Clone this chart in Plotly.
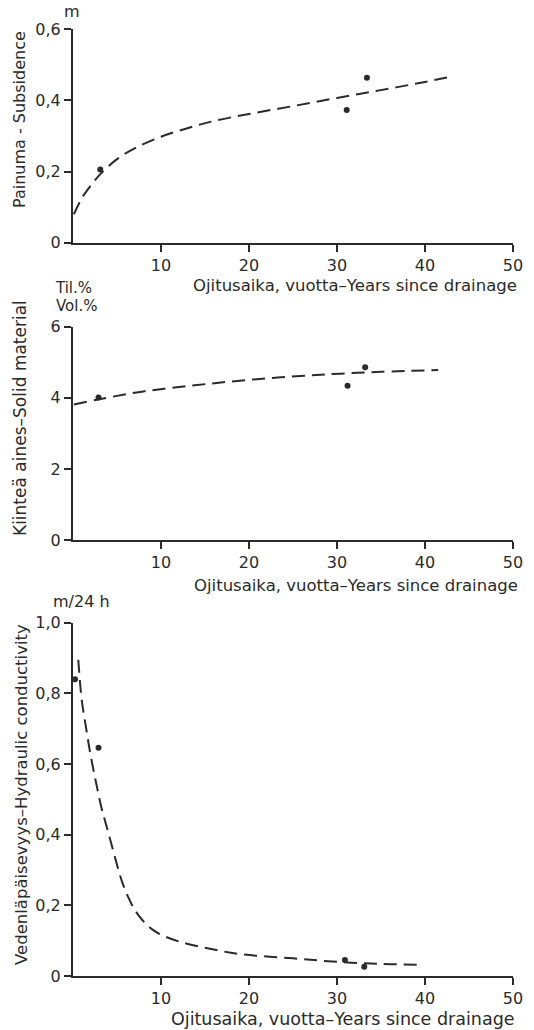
import plotly.graph_objects as go

W, H = 534, 1030

# ---------------- data ----------------
# Panel 1: subsidence (m)
years_pts_1 = [3.1, 31.1, 33.4]
subsidence_pts = [0.206, 0.373, 0.464]
years_fit_1 = [0.1, 1, 2, 3, 5, 7, 10, 13, 16, 20, 25, 30, 35, 40, 43.2]
subsidence_fit = [0.08, 0.125, 0.16, 0.19, 0.235, 0.265, 0.298, 0.322, 0.342, 0.362, 0.384,
                  0.407, 0.429, 0.452, 0.468]

# Panel 2: solid material (vol.%)
years_pts_2 = [2.9, 31.2, 33.2]
solid_pts = [4.01, 4.34, 4.86]
years_fit_2 = [0.1, 3, 8, 13.4, 18, 22.7, 27, 30.4, 35, 41.5]
solid_fit = [3.81, 3.96, 4.18, 4.34, 4.46, 4.56, 4.63, 4.68, 4.73, 4.78]

# Panel 3: hydraulic conductivity (m/24 h)
years_pts_3 = [0.23, 2.9, 30.9, 33.1]
conduct_pts = [0.84, 0.646, 0.045, 0.026]
years_fit_3 = [0.6, 1.0, 1.5, 2.0, 2.6, 3.2, 3.8, 4.4, 5.0, 5.6, 6.3, 7.1, 8.0, 9.0, 10.0,
               12, 15, 19, 25, 30, 35, 39.6]
conduct_fit = [0.895, 0.78, 0.70, 0.625, 0.55, 0.48, 0.425, 0.37, 0.315, 0.265, 0.222, 0.184,
               0.155, 0.132, 0.117, 0.098, 0.08, 0.062, 0.05, 0.04, 0.034, 0.032]

x_ticks = [10, 20, 30, 40, 50]
y1_ticks = [0, 0.2, 0.4, 0.6]
y1_labels = ["0", "0,2", "0,4", "0,6"]
y2_ticks = [0, 2, 4, 6]
y2_labels = ["0", "2", "4", "6"]
y3_ticks = [0, 0.2, 0.4, 0.6, 0.8, 1.0]
y3_labels = ["0", "0,2", "0,4", "0,6", "0,8", "1,0"]

x_title = "Ojitusaika, vuotta\u2013Years since drainage"

INK = "#2a2a2a"
FONT = "DejaVu Sans"

fig = go.Figure()

def px_x(p):
    return p / W

def px_y(p):
    return 1 - p / H

panels = [
    ("x", "y", years_pts_1, subsidence_pts, years_fit_1, subsidence_fit),
    ("x2", "y2", years_pts_2, solid_pts, years_fit_2, solid_fit),
    ("x3", "y3", years_pts_3, conduct_pts, years_fit_3, conduct_fit),
]
for xa, ya, xp, yp, xf, yf in panels:
    fig.add_trace(go.Scatter(x=xf, y=yf, xaxis=xa, yaxis=ya, mode="lines",
                             line=dict(color=INK, width=2, dash="13px,7px", shape="spline", smoothing=1.0),
                             showlegend=False, hoverinfo="skip"))
    fig.add_trace(go.Scatter(x=xp, y=yp, xaxis=xa, yaxis=ya, mode="markers",
                             marker=dict(color=INK, size=6),
                             showlegend=False))

xdom = [px_x(73), px_x(513)]
axis_common = dict(showline=True, linecolor=INK, linewidth=2, ticks="outside",
                   ticklen=7, tickwidth=2, tickcolor=INK, showgrid=False, zeroline=False,
                   automargin=False, tickfont=dict(family=FONT, size=16, color=INK))

ydoms = [
    [px_y(242.7), px_y(29.3)],
    [px_y(540), px_y(326.7)],
    [px_y(976), px_y(622.7)],
]
yranges = [[0, 0.6], [0, 6], [0, 1.0]]
yticks = [(y1_ticks, y1_labels), (y2_ticks, y2_labels), (y3_ticks, y3_labels)]

layout = dict(width=W, height=H, margin=dict(l=0, r=0, t=0, b=0),
              paper_bgcolor="white", plot_bgcolor="white", showlegend=False)
for i in range(3):
    sx = "" if i == 0 else str(i + 1)
    layout["xaxis" + sx] = dict(domain=xdom, range=[0, 50], tickvals=x_ticks,
                                anchor="y" + sx, **axis_common)
    layout["yaxis" + sx] = dict(domain=ydoms[i], range=yranges[i], tickvals=yticks[i][0],
                                ticktext=yticks[i][1], anchor="x" + sx, **axis_common)
fig.update_layout(**layout)

def ann(text, x, y, xanchor="center", yanchor="middle", size=15, angle=0):
    fig.add_annotation(text=text, x=px_x(x), y=px_y(y), xref="paper", yref="paper",
                       xanchor=xanchor, yanchor=yanchor, showarrow=False, textangle=angle,
                       font=dict(family=FONT, size=size, color=INK))

# axis titles
ann(x_title, 519, 286, xanchor="right", size=16.5)
ann(x_title, 520, 585, xanchor="right", size=16.5)
ann(x_title, 517, 1019, xanchor="right", size=17.5)
ann("Painuma - Subsidence", 20, 120, angle=-90, size=16)
ann("Kiinteä aines\u2013Solid material", 20, 418, angle=-90, size=17)
ann("Vedenläpäisevyys\u2013Hydraulic conductivity", 21, 795, angle=-90, size=16.5)
# unit labels
ann("m", 72, 12, size=16)
ann("Til.%", 73, 288, size=15)
ann("Vol.%", 76, 306, size=15)
ann("m/24 h", 81, 601, size=16)

fig.write_html("out.html")
